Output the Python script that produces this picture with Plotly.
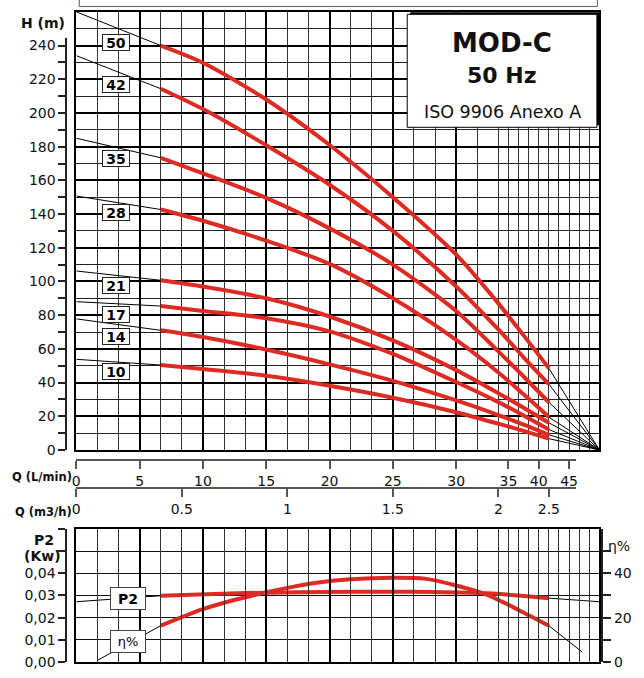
import numpy as np
import plotly.graph_objects as go

# ---------------- data (Q in m3/h, H in m) ----------------
Q_PTS = [0, 0.4, 0.6, 0.9, 1.2, 1.5, 1.8, 2.0, 2.25, 2.5, 3.0]
MODELS = ["50", "42", "35", "28", "21", "17", "14", "10"]
H_50 = [260, 240, 229.8, 208, 181, 150, 116, 87, 68, 48.5, 0]
H_42 = [234, 214.4, 202.3, 180.8, 157.4, 130, 97, 71.5, 55, 39, 0]
H_35 = [185, 173.4, 164.2, 149.6, 131.5, 110, 82.5, 58.5, 43.6, 28.3, 0]
H_28 = [150.7, 142.7, 136, 124.2, 110.4, 90, 65.3, 46, 33, 19.5, 0]
H_21 = [106.2, 100.7, 97, 90, 79.2, 65, 47.4, 33.7, 25.1, 16.1, 0]
H_17 = [88, 85.4, 82.5, 78.2, 70.4, 57, 40.3, 28.4, 20.5, 12.1, 0]
H_14 = [77.8, 71, 67, 59.6, 50.8, 41, 29.4, 20.7, 15, 9, 0]
H_10 = [53.8, 50.4, 48, 44, 38.1, 31, 22.4, 15.6, 11.3, 6.7, 0]
H_ALL = [H_50, H_42, H_35, H_28, H_21, H_17, H_14, H_10]
Q_RED_MIN, Q_RED_MAX = 0.4, 2.5

Q_P2 = [0, 0.4, 0.8, 1.157, 1.5, 1.7, 1.95, 2.2, 2.5, 3.0]
P2 = [0.0272, 0.0299, 0.0311, 0.0316, 0.0317, 0.0316, 0.0310, 0.0300, 0.0288, 0.0272]
Q_ETA = [0.1, 0.4, 0.6, 0.83, 1.03, 1.157, 1.3, 1.5, 1.65, 1.8, 1.95, 2.2, 2.5, 2.83]
ETA = [0.8, 16.4, 23.9, 29.9, 34, 36, 37.3, 38, 37.6, 34.5, 30.2, 23.5, 16.4, 4.5]

Q_LMIN_TICKS = [0, 5, 10, 15, 20, 25, 30, 35, 40, 45]
Q_M3H_TICKS = [0, 0.5, 1, 1.5, 2, 2.5]
H_TICKS = list(range(0, 250, 10))
P2_TICKS = [0, 0.01, 0.02, 0.03, 0.04, 0.05, 0.06]
P2_TEXT = ["0,00", "0,01", "0,02", "0,03", "0,04", "", ""]
ETA_TICKS = [0, 10, 20, 30, 40, 50]
ETA_TEXT = ["0", "", "20", "", "40", ""]
LMIN_PER_M3H = 1000 / 60

# ---------------- custom (compressed) flow scale ----------------
SCALE_Q = [0, 2, 3]
SCALE_U = [0, 426, 528]


def qx(q):
    return np.interp(np.asarray(q, float), SCALE_Q, SCALE_U)


W, HT = 644, 678
FONT = "DejaVu Sans"
RED = "#dd2a22"


def fx(px):
    return px / W


def fy(py):
    return 1 - py / HT


X_L, X_R = 73, 601
TOP_T, TOP_B = 11, 455
BOT_T, BOT_B = 535, 670

grid_q = np.round(np.arange(1, 30) * 0.1, 1)
major_q = np.array([0.3, 0.6, 0.9, 1.2, 1.5, 1.8])
minor_q = np.array([g for g in grid_q if not np.any(np.isclose(g, major_q))])

fig = go.Figure()


def seg_traces(q, v, yaxis, xaxis, qmin, qmax):
    q = np.asarray(q, float)
    v = np.asarray(v, float)
    lo = q <= qmin + 1e-9
    hi = q >= qmax - 1e-9
    xb = list(qx(q[lo])) + [None] + list(qx(q[hi]))
    yb = list(v[lo]) + [None] + list(v[hi])
    fig.add_trace(go.Scatter(x=xb, y=yb, mode="lines", xaxis=xaxis, yaxis=yaxis,
                             line=dict(color="black", width=1), connectgaps=False,
                             showlegend=False, hoverinfo="skip"))
    m = (q >= qmin - 1e-9) & (q <= qmax + 1e-9)
    fig.add_trace(go.Scatter(x=qx(q[m]), y=v[m], mode="lines", xaxis=xaxis, yaxis=yaxis,
                             line=dict(color=RED, width=4, shape="spline", smoothing=0.8),
                             showlegend=False, hoverinfo="skip"))


for H in H_ALL:
    seg_traces(Q_PTS, H, "y", "x", Q_RED_MIN, Q_RED_MAX)

seg_traces(Q_P2, P2, "y2", "x2", Q_RED_MIN, Q_RED_MAX)
seg_traces(Q_ETA, ETA, "y5", "x2", Q_RED_MIN, Q_RED_MAX)

# dummy (empty) traces so that the free label axes get drawn
for xa, ya in [("x3", "y3"), ("x4", "y3"), ("x2", "y4")]:
    fig.add_trace(go.Scatter(x=[], y=[], xaxis=xa, yaxis=ya, showlegend=False,
                             hoverinfo="skip"))

xgrid = dict(
    range=[0, 528], tickmode="array", tickvals=qx(major_q), showticklabels=False,
    ticks="", showgrid=True, gridcolor="black", gridwidth=2, zeroline=False,
    showline=True, linecolor="black", linewidth=2, mirror=True,
    minor=dict(tickmode="array", tickvals=qx(minor_q), showgrid=True,
               gridcolor="#333333", gridwidth=1, ticks=""),
)

tickfont = dict(family=FONT, size=14, color="#111111")

u_end = 577 - X_L
fig.update_layout(
    width=W, height=HT, autosize=False,
    margin=dict(l=0, r=0, t=0, b=0),
    paper_bgcolor="white", plot_bgcolor="rgba(0,0,0,0)",
    font=dict(family=FONT, color="#111111"),
    hovermode=False,
    xaxis=dict(domain=[fx(X_L), fx(X_R)], anchor="y", **xgrid),
    yaxis=dict(domain=[fy(TOP_B), fy(TOP_T)], anchor="x", range=[0, 260],
               tickmode="array", tickvals=list(range(20, 260, 20)), showticklabels=False,
               ticks="", showgrid=True, gridcolor="black", gridwidth=2, zeroline=False,
               showline=True, linecolor="black", linewidth=2, mirror=True,
               minor=dict(tickmode="array", tickvals=list(range(10, 260, 20)),
                          showgrid=True, gridcolor="#222222", gridwidth=1, ticks="")),
    xaxis2=dict(domain=[fx(X_L), fx(X_R)], anchor="y2", **xgrid),
    yaxis2=dict(domain=[fy(BOT_B), fy(BOT_T)], anchor="x2", range=[0, 0.06],
                tickmode="array", tickvals=[0.01, 0.02, 0.03, 0.04, 0.05],
                showticklabels=False, ticks="", showgrid=True, gridcolor="#111111",
                gridwidth=1, zeroline=False, showline=True, linecolor="black",
                linewidth=2, mirror=True),
    # Q (L/min) label axis
    xaxis3=dict(domain=[fx(X_L), fx(577)], anchor="free", position=fy(465),
                range=[0, u_end], tickmode="array",
                tickvals=qx(np.array(Q_LMIN_TICKS) / LMIN_PER_M3H),
                ticktext=[str(t) for t in Q_LMIN_TICKS], ticks="outside", ticklen=8,
                tickwidth=1.5, tickcolor="#555555", showline=True, linecolor="#555555",
                linewidth=2, showgrid=False, zeroline=False, tickfont=tickfont),
    # Q (m3/h) label axis
    xaxis4=dict(domain=[fx(X_L), fx(577)], anchor="free", position=fy(494),
                range=[0, u_end], tickmode="array", tickvals=qx(Q_M3H_TICKS),
                ticktext=[f"{t:g}" for t in Q_M3H_TICKS], ticks="outside", ticklen=8,
                tickwidth=1.5, tickcolor="#555555", showline=True, linecolor="#555555",
                linewidth=2, showgrid=False, zeroline=False, tickfont=tickfont),
    # H (m) label axis
    yaxis3=dict(domain=[fy(TOP_B), fy(37.7)], anchor="free", position=fx(63),
                range=[0, (TOP_B - 37.7) / ((TOP_B - TOP_T) / 260)],
                tickmode="array", tickvals=H_TICKS,
                ticktext=[str(t) if t % 20 == 0 else "" for t in H_TICKS],
                ticks="outside", ticklen=7, tickwidth=1.5, tickcolor="#222222",
                showline=True, linecolor="#222222", linewidth=2, showgrid=False,
                zeroline=False, tickfont=tickfont),
    # P2 label axis
    yaxis4=dict(domain=[fy(BOT_B), fy(BOT_T)], anchor="free", position=fx(63),
                range=[0, 0.06], tickmode="array", tickvals=P2_TICKS, ticktext=P2_TEXT,
                ticks="outside", ticklen=7, tickwidth=1.5, tickcolor="#222222",
                showline=True, linecolor="#222222", linewidth=2, showgrid=False,
                zeroline=False, tickfont=tickfont),
    # eta % axis
    yaxis5=dict(overlaying="y2", anchor="free", position=fx(604), side="right",
                range=[0, 60], tickmode="array", tickvals=ETA_TICKS, ticktext=ETA_TEXT,
                ticks="outside", ticklen=8, tickwidth=1.5, tickcolor="#222222",
                showline=True, linecolor="#222222", linewidth=1.5, showgrid=False,
                zeroline=False, tickfont=tickfont),
)

shapes = [
    # cut-off header frame
    dict(type="rect", xref="paper", yref="paper", x0=fx(76), x1=fx(599),
         y0=fy(5.5), y1=fy(-20), line=dict(color="#4d5d86", width=1), fillcolor="white",
         layer="above"),
    # info box shadow + box
    dict(type="rect", xref="paper", yref="paper", x0=fx(410), x1=fx(601),
         y0=fy(126), y1=fy(11.5), line=dict(width=0), fillcolor="black", layer="above"),
    dict(type="rect", xref="paper", yref="paper", x0=fx(407), x1=fx(598.5),
         y0=fy(128), y1=fy(13.5), line=dict(color="black", width=1), fillcolor="white",
         layer="above"),
]
fig.update_layout(shapes=shapes)

ann = []


def text(px, py, t, size, bold=False, xanchor="center"):
    ann.append(dict(xref="paper", yref="paper", x=fx(px), y=fy(py), text=t,
                    showarrow=False, xanchor=xanchor, yanchor="middle",
                    font=dict(family=FONT, size=size, color="#111111",
                              weight="bold" if bold else "normal")))


text(503, 43, "MOD-C", 26, True)
text(503, 75, "50 Hz", 22, True)
text(503, 113, "ISO 9906 Anexo A", 17.5)
text(39.7, 22.5, "H (m)", 14, True)
text(70.5, 482, "Q (L/min)", 11.5, True, "right")
text(70.5, 518, "Q (m3/h)", 11.5, True, "right")
text(40, 546, "P2", 14, True)
text(39.3, 562.5, "(Kw)", 14, True)
text(621, 552, "η%", 14)

# curve labels (positions in axis units)
LABEL_U = 40
LABEL_H = [242, 217, 173, 141, 97.5, 80.5, 67.4, 46.5]
for name, hy in zip(MODELS, LABEL_H):
    ann.append(dict(xref="x", yref="y", x=LABEL_U, y=hy, text=name, showarrow=False,
                    bgcolor="white", bordercolor="#222222", borderwidth=1, borderpad=1,
                    width=24, height=13,
                    font=dict(family=FONT, size=14, color="black", weight="bold")))

ann.append(dict(xref="x2", yref="y2", x=52, y=0.0286, text="P2", showarrow=False,
                bgcolor="white", bordercolor="#444444", borderwidth=1, borderpad=1,
                width=32, height=19,
                font=dict(family=FONT, size=14, color="black", weight="bold")))
ann.append(dict(xref="x2", yref="y2", x=52, y=0.0092, text="η%", showarrow=False,
                bgcolor="white", bordercolor="#444444", borderwidth=1, borderpad=1,
                width=32, height=19, font=dict(family=FONT, size=13, color="black")))

fig.update_layout(annotations=ann)
fig.write_html("out.html", config={"displayModeBar": False},
               post_script="document.body.style.margin='0px';")
